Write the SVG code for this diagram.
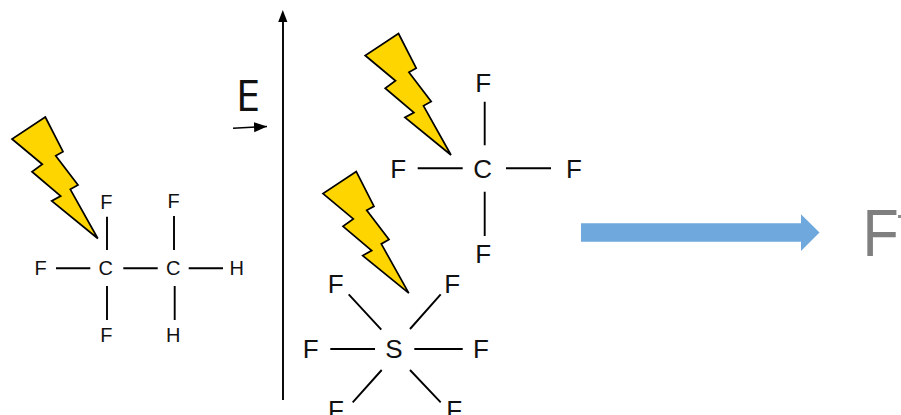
<svg xmlns="http://www.w3.org/2000/svg" width="901" height="415" viewBox="0 0 901 415">
<style>
text{font-family:"Liberation Sans",Arial,sans-serif;fill:#111;text-anchor:middle}
.s{font-size:20px}
.m{font-size:26px}
.b{fill:none;stroke:#000;stroke-width:1.9}
.bolt{fill:#ffd500;stroke:#000;stroke-width:1.7;stroke-linejoin:miter}
</style>
<defs>
<polygon id="bolt" class="bolt" points="45.3,117 63,151.7 55.7,155.7 78,185 70.3,189.3 97.8,238.5 51.7,201 60.7,196 32,171.7 42.3,164.3 12,139"/>
<marker id="ah" markerUnits="userSpaceOnUse" markerWidth="14" markerHeight="12" refX="13" refY="5" orient="auto"><path d="M0,0L13,5L0,10Z" fill="#000"/></marker>
</defs>
<rect width="901" height="415" fill="#fff"/>
<g id="connectors">
<path class="b" d="M107,216.7V250M56,268.3H90.3M123.3,268.3H157.7M188.7,268.3H223M107,286V320M174,216V250M174.7,286V320"/>
<path class="b" d="M417.7,168.3H462.7M506,168.3H551M484.7,101.7V145.3M484.7,191.7V236"/>
<path class="b" d="M348.7,294.3L381.3,329.7M440.7,294.3L410,329M330.3,349H375M414.3,349H462.7M381.7,370L352.7,402.3M410,370L440.7,402.3"/>
<path class="b" d="M283,400V20" />
<polygon points="282.8,10 278.2,22 287.4,22" fill="#000"/>
<path d="M233,128.3L267,126.5" fill="none" stroke="#000" stroke-width="1.5" marker-end="url(#ah)"/>
<polygon points="581,223.3 801,223.3 801,214.3 819.5,232.6 801,251 801,241.7 581,241.7" fill="#6fa8dc"/>
</g>
<g id="bolt-1"><use href="#bolt"/></g>
<g id="bolt-2"><use href="#bolt" x="353.2" y="-83.5"/></g>
<g id="bolt-3"><use href="#bolt" x="311" y="54.6"/></g>
<g id="label-E"><text x="248" y="110.7" font-size="44" style="font-family:'Open Sans','Liberation Sans',sans-serif">E</text></g>
<g id="molecule-c2f4h2">
<text class="s" x="40.7" y="275">F</text>
<text class="s" x="105.7" y="275">C</text>
<text class="s" x="173.3" y="275">C</text>
<text class="s" x="236.7" y="275">H</text>
<text class="s" x="106.3" y="209">F</text>
<text class="s" x="173.7" y="208.3">F</text>
<text class="s" x="106.3" y="341.7">F</text>
<text class="s" x="173.3" y="341.7">H</text>
</g>
<g id="molecule-cf4">
<text class="m" x="483.3" y="91.7">F</text>
<text class="m" x="398.3" y="177.7">F</text>
<text class="m" x="482.7" y="177.7">C</text>
<text class="m" x="574" y="177.7">F</text>
<text class="m" x="483.3" y="263.3">F</text>
</g>
<g id="molecule-sf6">
<text class="m" x="335.7" y="293.3">F</text>
<text class="m" x="452.3" y="293.3">F</text>
<text class="m" x="310.7" y="357.7">F</text>
<text class="m" x="394" y="357.7">S</text>
<text class="m" x="481" y="357.7">F</text>
<text class="m" x="336" y="419">F</text>
<text class="m" x="454.3" y="419">F</text>
</g>
<g id="product-F">
<text transform="translate(862.6 255.7) scale(.9 1)" font-size="66" style="text-anchor:start;fill:#7f7f7f">F</text>
<rect x="898" y="215" width="3" height="3" fill="#8c8c8c"/>
</g>
</svg>
